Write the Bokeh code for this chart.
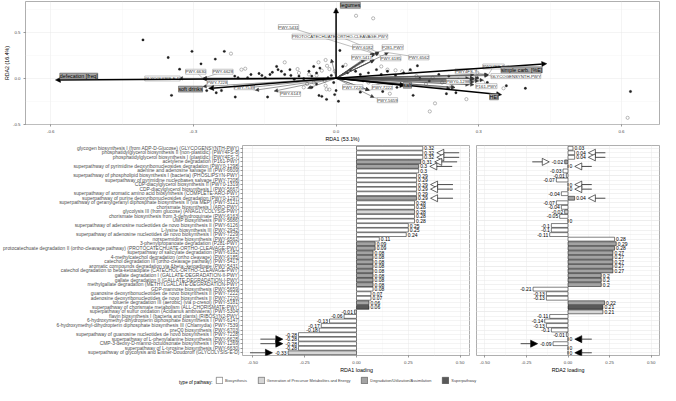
from bokeh.plotting import figure
from bokeh.models import (ColumnDataSource, Range1d, FixedTicker, Arrow, NormalHead, Grid,
                          LabelSet, Label, Legend, LegendItem, PrintfTickFormatter)
from bokeh.layouts import column, row
from bokeh.embed import file_html
from bokeh.resources import INLINE
from bokeh.core.properties import value

FONT = "Liberation Sans"

# ---------------- data ----------------
pathway_names = [
    "glycogen biosynthesis I (from ADP-D-Glucose) (GLYCOGENSYNTH-PWY)",
    "phosphatidylglycerol biosynthesis II (non-plastidic) (PWY4FS-8)",
    "phosphatidylglycerol biosynthesis I (plastidic) (PWY4FS-7)",
    "acetylene degradation (P161-PWY)",
    "superpathway of pyrimidine deoxyribonucleosides degradation (PWY0-1298)",
    "adenine and adenosine salvage III (PWY-6609)",
    "superpathway of phospholipid biosynthesis I (bacteria) (PHOSLIPSYN-PWY)",
    "superpathway of pyrimidine nucleobases salvage (PWY-7208)",
    "CDP-diacylglycerol biosynthesis II (PWY0-1319)",
    "CDP-diacylglycerol biosynthesis I (PWY-5667)",
    "superpathway of aromatic amino acid biosynthesis (COMPLETE-ARO-PWY)",
    "superpathway of purine deoxyribonucleosides degradation (PWY0-1297)",
    "superpathway of geranylgeranyl diphosphate biosynthesis II (via MEP) (PWY-5121)",
    "chorismate biosynthesis I (ARO-PWY)",
    "glycolysis III (from glucose) (ANAGLYCOLYSIS-PWY)",
    "chorismate biosynthesis from 3-dehydroquinate (PWY-6163)",
    "UMP biosynthesis (PWY-5686)",
    "superpathway of adenosine nucleotides de novo biosynthesis II (PWY-6126)",
    "L-lysine biosynthesis III (PWY-2942)",
    "superpathway of adenosine nucleotides de novo biosynthesis I (PWY-7229)",
    "norspermidine biosynthesis (PWY-6562)",
    "3-phenylpropanoate degradation (P281-PWY)",
    "protocatechuate degradation II (ortho-cleavage pathway) (PROTOCATECHUATE-ORTHO-CLEAVAGE-PWY)",
    "superpathway of salicylate degradation (PWY-6182)",
    "4-methylcatechol degradation (ortho cleavage) (PWY-6185)",
    "catechol degradation III (ortho-cleavage pathway) (PWY-5417)",
    "aromatic compounds degradation via &beta;-ketoadipate (PWY-5431)",
    "catechol degradation to beta-ketoadipate (CATECHOL-ORTHO-CLEAVAGE-PWY)",
    "gallate degradation I (GALLATE-DEGRADATION-II-PWY)",
    "gallate degradation II (GALLATE-DEGRADATION-I-PWY)",
    "methylgallate degradation (METHYLGALLATE-DEGRADATION-PWY)",
    "GDP-mannose biosynthesis (PWY-5659)",
    "guanosine deoxyribonucleotides de novo biosynthesis II (PWY-7222)",
    "adenosine deoxyribonucleotides de novo biosynthesis II (PWY-7220)",
    "toluene degradation III (aerobic) (via p-cresol) (PWY-5181)",
    "superpathway of chorismate metabolism (ALL-CHORISMATE-PWY)",
    "superpathway of sulfur oxidation (Acidianus ambivalens) (PWY-5304)",
    "flavin biosynthesis I (bacteria and plants) (RIBOSYN2-PWY)",
    "6-hydroxymethyl-dihydropterin diphosphate biosynthesis I (PWY-6147)",
    "6-hydroxymethyl-dihydropterin diphosphate biosynthesis III (Chlamydia) (PWY-7539)",
    "preQ0 biosynthesis (PWY-6703)",
    "superpathway of guanosine nucleotides de novo biosynthesis I (PWY-7228)",
    "superpathway of L-phenylalanine biosynthesis (PWY-6628)",
    "CMP-3-deoxy-D-manno-octulosonate biosynthesis I (PWY-1269)",
    "superpathway of L-tyrosine biosynthesis (PWY-6630)",
    "superpathway of glycolysis and Entner-Doudoroff (GLYCOLYSIS-E-D)",
]

# B = Biosynthesis, G = Generation of Precursor Metabolites and Energy,
# D = Degradation/Utilization/Assimilation, S = Superpathway
pathway_type = ["B", "B", "B", "D", "D", "B", "B", "B", "B", "B",
                "B", "D", "B", "B", "G", "B", "B", "B", "B", "B",
                "B", "D", "D", "D", "D", "D", "D", "D", "D", "D",
                "D", "B", "B", "B", "D", "S", "G", "B", "B", "B",
                "B", "B", "B", "B", "B", "G"]

rda1_loading = [0.32, 0.32, 0.32, 0.31, 0.30, 0.30, 0.29, 0.29, 0.29, 0.29,
                0.29, 0.29, 0.28, 0.28, 0.28, 0.28, 0.28, 0.25, 0.25, 0.24,
                0.11, 0.09, 0.09, 0.08, 0.08, 0.08, 0.08, 0.08, 0.08, 0.08,
                0.08, 0.08, 0.07, 0.07, 0.06, 0.06, -0.01, -0.06, -0.13, -0.17,
                -0.18, -0.28, -0.28, -0.28, -0.28, -0.33]

rda2_loading = [0.03, 0.04, 0.04, -0.02, 0.0, -0.03, -0.01, -0.07, 0.0, 0.0,
                -0.04, 0.04, -0.07, -0.04, -0.02, -0.05, 0.0, -0.10, -0.10, -0.11,
                0.28, 0.29, 0.28, 0.27, 0.27, 0.27, 0.27, 0.27, 0.20, 0.20,
                0.20, -0.21, -0.13, -0.13, 0.22, 0.21, 0.21, -0.11, -0.14, -0.13,
                -0.10, -0.01, 0.0, -0.09, 0.0, 0.0]

# rows flagged with arrows in the loading panels
flag_open_rows = [1, 2, 3, 4, 8, 9, 11]
flag_filled_rows = [42, 43, 45]

# constraining (environmental) variables in the triplot
env_names = ["defecation [freq]", "soft drinks", "legumes", "simple carb. [%E]", "salt", "HEI"]
env_rda1 = [-0.590, -0.268, 0.0, 0.443, 0.145, 0.348]
env_rda2 = [-0.018, -0.110, 0.770, 0.160, -0.078, -0.179]

# sample scores (two groups)
site_filled_rda1 = [-0.406, -0.353, -0.303, -0.235, -0.254, -0.284, -0.329, -0.346, -0.252, -0.241,
                    -0.212, -0.144, -0.272, -0.020, -0.125,
                    -0.179, -0.162, -0.156, -0.139, -0.122, -0.115, -0.108, -0.095, -0.088, -0.078,
                    -0.068, -0.051, -0.041, -0.034, -0.027, -0.017, -0.010, -0.005, -0.036, -0.030,
                    -0.206, -0.213, -0.186, -0.149, -0.134, -0.097, -0.057, -0.047, -0.041, -0.051,
                    -0.003,
                    0.008, 0.030, 0.005, 0.162, 0.232, 0.252, 0.358, 0.398, 0.619, 0.128,
                    0.014, 0.024, 0.041, 0.051, 0.068, 0.085, 0.095, 0.108, 0.125, 0.142,
                    0.156, 0.176, 0.196, 0.216, 0.051, 0.098, 0.237, 0.257, 0.277, 0.297,
                    0.318, 0.057, 0.000, 0.171]
site_filled_rda2 = [0.420, 0.227, 0.295, 0.295, 0.210, 0.158, 0.100, -0.186, -0.158, -0.134,
                    -0.204, -0.204, -0.134, -0.230, 0.130,
                    0.042, 0.053, 0.032, 0.042, 0.095, 0.077, 0.042, 0.032, -0.011, 0.024,
                    -0.004, 0.024, 0.059, 0.112, -0.011, 0.006, 0.032, -0.046, -0.187, -0.197,
                    0.006, 0.024, 0.006, 0.006, 0.066, 0.095, 0.077, 0.129, -0.063, -0.099,
                    -0.178,
                    0.305, 0.094, -0.250, -0.186, -0.168, -0.158, -0.081, -0.109, -0.144, -0.099,
                    0.130, 0.060, 0.077, 0.042, 0.060, 0.095, 0.042, 0.077, 0.032, 0.060,
                    0.095, 0.000, -0.028, 0.042, -0.151, -0.144, 0.024, -0.011, -0.028, 0.006,
                    -0.046, -0.028, -0.134, 0.137]
site_open_rda1 = [-0.221, -0.199, -0.191, -0.108, -0.081, -0.037, -0.022, -0.078, -0.057, -0.041,
                  -0.030, -0.019, -0.014, -0.003, -0.047, -0.022, -0.014, -0.068, -0.061, -0.024,
                  -0.020,
                  0.042, 0.078, 0.208, 0.197, 0.274, 0.352, 0.613, 0.113, 0.095, 0.108,
                  0.125, 0.139, 0.156, 0.037, 0.020, 0.169, 0.203, 0.223, 0.243, 0.068,
                  0.088, 0.189, 0.297]
site_open_rda2 = [0.270, 0.095, 0.105, 0.175, 0.101, 0.175, 0.200, 0.059, 0.042, 0.032,
                  0.084, 0.137, 0.101, 0.077, -0.046, -0.081, -0.123, -0.099, -0.063, -0.028,
                  -0.120,
                  0.684, 0.656, -0.274, -0.362, -0.228, -0.109, -0.432, -0.168, 0.130, 0.095,
                  0.088, 0.077, 0.077, 0.112, 0.147, 0.024, 0.006, -0.046, -0.081, -0.046,
                  -0.081, -0.063, 0.060]

type_labels = {"B": "Biosynthesis",
               "G": "Generation of Precursor Metabolites and Energy",
               "D": "Degradation/Utilization/Assimilation",
               "S": "Superpathway"}
type_order = ["B", "G", "D", "S"]

# ---------------- styles ----------------
type_fill = {"B": "#ffffff", "G": "#d6d6d6", "D": "#a3a3a3", "S": "#595959"}

pathway_ids = [n[n.rfind("(") + 1:-1] for n in pathway_names]
N = len(pathway_names)


def fmt(v):
    s = f"{v:.2f}".rstrip("0").rstrip(".")
    return "0" if s in ("", "0", "-0") else s


DIGIT_W = {"0": 556, "1": 556, "2": 556, "3": 556, "4": 556, "5": 556, "6": 556,
           "7": 556, "8": 556, "9": 556, ".": 278, "-": 333}


def text_px(s, fs):
    return sum(DIGIT_W.get(c, 556) for c in s) * fs / 1000.0


def style(p, tick_fs="4.4px", title_fs="5.3px"):
    p.outline_line_color = "#9a9a9a"
    p.outline_line_width = 0.8
    p.background_fill_color = "white"
    p.border_fill_color = "white"
    for ax in p.axis:
        ax.axis_line_color = None
        ax.major_tick_line_color = "#333333"
        ax.major_tick_line_width = 0.5
        ax.major_tick_out = 2
        ax.major_tick_in = 0
        ax.minor_tick_line_color = None
        ax.major_label_text_font = FONT
        ax.major_label_text_color = "#4d4d4d"
        ax.major_label_text_font_size = tick_fs
        ax.major_label_standoff = 1
        ax.axis_label_text_font = FONT
        ax.axis_label_text_font_style = "normal"
        ax.axis_label_text_font_size = title_fs
        ax.axis_label_standoff = 0
        ax.axis_label_text_color = "black"
    p.grid.grid_line_color = "#e8e8e8"
    p.grid.grid_line_width = 0.5
    p.grid.minor_grid_line_color = "#f2f2f2"
    p.grid.minor_grid_line_width = 0.4


# ---------------- top: triplot ----------------
top = figure(width=660, height=144, x_range=Range1d(-0.653, 0.68), y_range=Range1d(-0.505, 0.84),
             output_backend="svg", toolbar_location=None,
             min_border_left=17, min_border_right=1, min_border_top=1, min_border_bottom=0)
style(top)
top.xaxis.ticker = FixedTicker(ticks=[-0.6, -0.3, 0.0, 0.3, 0.6], minor_ticks=[-0.45, -0.15, 0.15, 0.45])
top.yaxis.ticker = FixedTicker(ticks=[-0.5, 0.0, 0.5], minor_ticks=[-0.25, 0.25, 0.75])
top.xaxis.formatter = PrintfTickFormatter(format="%.1f")
top.yaxis.formatter = PrintfTickFormatter(format="%.1f")
top.xaxis.axis_label = "RDA1 (53.1%)"
top.yaxis.axis_label = "RDA2 (16.4%)"

top.scatter(site_open_rda1, site_open_rda2, marker="circle", size=3.2, fill_color=None,
            line_color="#8a8a8a", line_width=0.6)
top.scatter(site_filled_rda1, site_filled_rda2, marker="circle", size=2.4, fill_color="#1f1f1f",
            line_color="#1f1f1f", line_width=0.3)

# labelled pathway arrows: label positions (data coordinates)
path_label_pos = {
    "PWY-5431": (-0.100, 0.561),
    "PROTOCATECHUATE-ORTHO-CLEAVAGE-PWY": (0.008, 0.456),
    "PWY-6182": (0.056, 0.340),
    "P281-PWY": (0.119, 0.340),
    "PWY-5417": (0.054, 0.229),
    "PWY-6185": (0.115, 0.219),
    "PWY-6562": (0.174, 0.229),
    "PWY4FS-8": (0.331, 0.129),
    "PWY4FS-7": (0.273, 0.077),
    "GLYCOGENSYNTH-PWY": (0.378, 0.024),
    "PWY0-1298": (0.256, -0.034),
    "P161-PWY": (0.316, -0.086),
    "PWY-7220": (0.035, -0.097),
    "PWY-7222": (0.097, -0.097),
    "PWY-5659": (0.108, -0.239),
    "PWY-6630": (-0.295, 0.072),
    "PWY-6628": (-0.238, 0.072),
    "GLYCOLYSIS-E-D": (-0.365, -0.002),
    "PWY-7228": (-0.250, -0.049),
    "PWY-7539": (-0.193, -0.097),
    "PWY-6147": (-0.096, -0.171),
}
lab_ids = list(path_label_pos.keys())
lab_src = ColumnDataSource(dict(
    id=lab_ids,
    lx=[path_label_pos[k][0] for k in lab_ids],
    ly=[path_label_pos[k][1] for k in lab_ids],
    tx=[rda1_loading[pathway_ids.index(k)] for k in lab_ids],
    ty=[rda2_loading[pathway_ids.index(k)] for k in lab_ids],
))
top.segment(x0="lx", y0="ly", x1="tx", y1="ty", source=lab_src, line_color="#6e6e6e", line_width=0.45)

path_src = ColumnDataSource(dict(x=rda1_loading, y=rda2_loading))
top.add_layout(Arrow(end=NormalHead(size=3.5, fill_color="#333333", line_color="#333333", line_width=0.4),
                     x_start=0, y_start=0, x_end="x", y_end="y", source=path_src,
                     line_color="#4a4a4a", line_width=0.55))

top.add_layout(LabelSet(x="lx", y="ly", text="id", source=lab_src, text_align="center",
                        text_baseline="middle", text_font=value(FONT), text_font_size="4.3px",
                        text_color="#333333", background_fill_color="white",
                        border_line_color="#8c8c8c", border_line_width=0.5))

env_src = ColumnDataSource(dict(x=env_rda1, y=env_rda2, name=env_names))
top.add_layout(Arrow(end=NormalHead(size=5, fill_color="black", line_color="black", line_width=0.5),
                     x_start=0, y_start=0, x_end="x", y_end="y", source=env_src,
                     line_color="black", line_width=1.5))

env_label_pos = {
    "defecation [freq]": (-0.541, 0.024),
    "soft drinks": (-0.306, -0.118),
    "legumes": (0.030, 0.798),
    "simple carb. [%E]": (0.390, 0.093),
    "salt": (0.150, -0.076),
    "HEI": (0.332, -0.202),
}
envlab_src = ColumnDataSource(dict(
    name=env_names,
    lx=[env_label_pos[n][0] for n in env_names],
    ly=[env_label_pos[n][1] for n in env_names],
))
top.add_layout(LabelSet(x="lx", y="ly", text="name", source=envlab_src, text_align="center",
                        text_baseline="middle", text_font=value(FONT), text_font_size="5.3px",
                        text_color="black", background_fill_color="#a6a6a6",
                        border_line_color="#4d4d4d", border_line_width=0.5))

# ---------------- bottom: loading bar panels ----------------
ys = [N - i for i in range(N)]
fills = [type_fill[t] for t in pathway_type]
VAL_FS = 5.0
X_TICKS = [-0.5, -0.25, 0.0, 0.25, 0.5]
X_MINOR = [-0.375, -0.125, 0.125, 0.375]


def loading_panel(vals, width, show_labels, xlabel, frame_px, arrow_len):
    p = figure(width=width, height=231, x_range=Range1d(-0.55, 0.55), y_range=Range1d(0.4, N + 0.6),
               output_backend="svg", toolbar_location=None,
               y_axis_location="left" if show_labels else None,
               min_border_left=0 if show_labels else 6, min_border_right=0 if show_labels else 1,
               min_border_top=1, min_border_bottom=0)
    if not show_labels:
        p.add_layout(Grid(dimension=1, ticker=FixedTicker(ticks=ys)))
    style(p)
    p.xaxis.ticker = FixedTicker(ticks=X_TICKS, minor_ticks=X_MINOR)
    p.xaxis.formatter = PrintfTickFormatter(format="%.2f")
    p.xaxis.axis_label = xlabel
    if show_labels:
        p.yaxis.ticker = FixedTicker(ticks=ys)
        p.yaxis.major_label_overrides = {y: n for y, n in zip(ys, pathway_names)}
        p.yaxis.major_label_text_font_size = "4.9px"

    src = ColumnDataSource(dict(y=ys, v=vals, fill=fills))
    p.hbar(y="y", left=0, right="v", height=0.85, fill_color="fill", line_color="black",
           line_width=0.5, source=src)

    pos = [i for i in range(N) if vals[i] >= 0]
    neg = [i for i in range(N) if vals[i] < 0]
    for idx, align, off in ((pos, "left", 1.5), (neg, "right", -1.5)):
        s = ColumnDataSource(dict(y=[ys[i] for i in idx], v=[vals[i] for i in idx],
                                  lab=[fmt(vals[i]) for i in idx]))
        p.text(x="v", y="y", text="lab", source=s, text_align=align, text_baseline="middle",
               x_offset=off, text_font=value(FONT), text_font_size="5px", text_color="black")

    ppu = frame_px / 1.1
    for rows, head_fill in ((flag_open_rows, "white"), (flag_filled_rows, "black")):
        xs, xe, yy = [], [], []
        for i in rows:
            v = vals[i]
            lw = text_px(fmt(v), VAL_FS)
            sgn = 1 if v >= 0 else -1
            tip = v + sgn * (1.5 + lw + 2.5) / ppu
            tail = tip + sgn * arrow_len / ppu
            xs.append(tail)
            xe.append(tip)
            yy.append(ys[i])
        a_src = ColumnDataSource(dict(xs=xs, xe=xe, y=yy))
        p.add_layout(Arrow(end=NormalHead(size=7, fill_color=head_fill, line_color="black", line_width=0.6),
                           x_start="xs", y_start="y", x_end="xe", y_end="y", source=a_src,
                           line_color="black", line_width=0.7))
    return p


bl = loading_panel(rda1_loading, 470, True, "RDA1 loading", 224, 22)
br = loading_panel(rda2_loading, 190, False, "RDA2 loading", 183, 17)

# ---------------- legend strip ----------------
lg = figure(width=660, height=10, x_range=Range1d(0, 1), y_range=Range1d(0, 1),
            output_backend="svg", toolbar_location=None, x_axis_type=None, y_axis_type=None,
            min_border=0)
lg.grid.visible = False
lg.outline_line_color = None
items = []
for code in type_order:
    r = lg.quad(left=[5], right=[6], top=[6], bottom=[5], fill_color=type_fill[code],
                line_color="#333333", line_width=0.5)
    items.append(LegendItem(label=type_labels[code], renderers=[r]))
legend = Legend(items=items, orientation="horizontal", location=(190, 1), glyph_width=8, glyph_height=8,
                label_text_font_size="3.9px", label_text_font=FONT, label_standoff=2, spacing=10,
                padding=0, margin=0, border_line_color=None, background_fill_alpha=0,
                label_height=8, label_width=5, label_text_baseline="middle")
lg.add_layout(legend, "center")
lg.add_layout(Label(x=187, y=5, x_units="screen", y_units="screen", text="type of pathway:",
                    text_align="right", text_baseline="middle", text_font_size="4.6px",
                    text_font=FONT, text_color="black"))

layout = column(top, row(bl, br), lg)
open("out.html", "w").write(file_html(layout, INLINE))
